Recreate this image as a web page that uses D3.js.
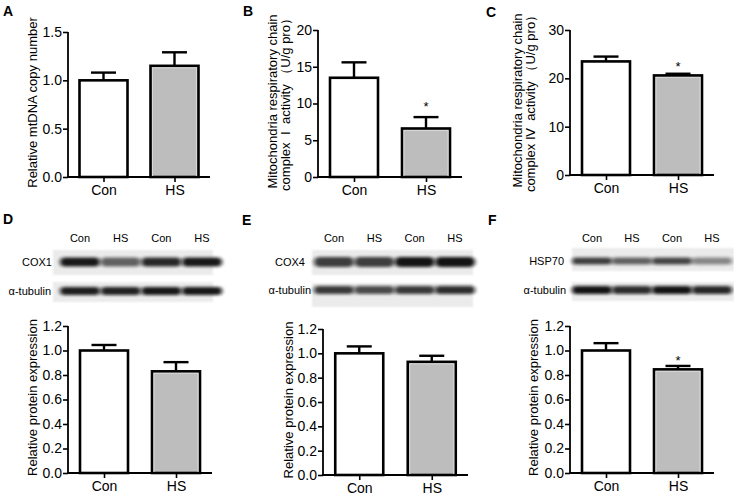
<!DOCTYPE html>
<html><head><meta charset="utf-8">
<script src="https://cdn.jsdelivr.net/npm/d3@7"></script>
<style>
body{margin:0;background:#fff}
svg{display:block;font-family:Arial,"Liberation Sans",Helvetica,sans-serif}
text{white-space:pre}
</style>
</head><body>
<svg id="chart" width="734" height="496"></svg>
<script>
// ---------------- DATA ----------------
const groups = ["Con", "HS"];
const mtdnaMean = [1.00, 1.15], mtdnaErr = [0.08, 0.14];
const complex1Mean = [13.5, 6.6], complex1Err = [2.1, 1.55];
const complex4Mean = [23.5, 20.6], complex4Err = [1.0, 0.35];
const cox1Mean = [1.00, 0.83], cox1Err = [0.045, 0.075];
const cox4Mean = [1.00, 0.93], cox4Err = [0.057, 0.05];
const hsp70Mean = [1.00, 0.846], hsp70Err = [0.06, 0.028];
const sigA = [false, false], sigB = [false, true], sigC = [false, true];
const sigD = [false, false], sigE = [false, false], sigF = [false, true];
const ticksA = [0, 0.5, 1.0, 1.5];
const ticksB = [0, 5, 10, 15, 20];
const ticksC = [0, 10, 20, 30];
const ticksP = [0, 0.2, 0.4, 0.6, 0.8, 1.0, 1.2];
const laneLabels = ["Con", "HS", "Con", "HS"];
const cox1Bands = [0.95, 0.62, 0.88, 0.95], tubulinD = [0.92, 0.9, 0.95, 0.95];
const cox4Bands = [0.78, 0.78, 0.97, 0.97], tubulinE = [0.8, 0.72, 0.8, 0.85];
const hsp70Bands = [0.78, 0.62, 0.75, 0.45], tubulinF = [0.97, 0.85, 0.97, 0.88];

// ---------------- DRAW ----------------
const svg = d3.select("#chart");
const defs = svg.append("defs");
defs.append("filter").attr("id", "blur").attr("x", "-30%").attr("y", "-80%").attr("width", "160%").attr("height", "260%")
  .append("feGaussianBlur").attr("stdDeviation", "2 1.5");
defs.append("filter").attr("id", "soft").append("feGaussianBlur").attr("stdDeviation", "1");

function panelLetter(t, x, y) {
  svg.append("text").attr("x", x).attr("y", y).attr("font-size", 14).attr("font-weight", "bold").text(t);
}

function barPanel(cfg) {
  const g = svg.append("g");
  const x = d3.scalePoint().domain(groups).range([cfg.axisX, cfg.xEnd]).padding(0.5);
  const y = d3.scaleLinear().domain([cfg.ticks[0], cfg.ticks[cfg.ticks.length - 1]]).range([cfg.yBottom, cfg.yTop]);
  const bw = 48, cap = 25;
  const data = groups.map((k, i) => ({ k, m: cfg.mean[i], e: cfg.err[i], s: cfg.sig[i], i }));

  g.selectAll(".eb").data(data).enter().append("line")
    .attr("x1", d => x(d.k)).attr("x2", d => x(d.k))
    .attr("y1", d => y(d.m)).attr("y2", d => y(d.m + d.e))
    .attr("stroke", "#000").attr("stroke-width", 2.4);
  g.selectAll(".cap").data(data).enter().append("line")
    .attr("x1", d => x(d.k) - cap / 2).attr("x2", d => x(d.k) + cap / 2)
    .attr("y1", d => y(d.m + d.e)).attr("y2", d => y(d.m + d.e))
    .attr("stroke", "#000").attr("stroke-width", 2.4);

  g.selectAll(".bar").data(data).enter().append("rect")
    .attr("x", d => x(d.k) - bw / 2).attr("width", bw)
    .attr("y", d => y(d.m)).attr("height", d => y(0) - y(d.m))
    .attr("fill", d => d.i === 0 ? "#fff" : "#bdbdbd")
    .attr("stroke", "#000").attr("stroke-width", 2.6);
  g.selectAll(".inner").data(data.filter(d => d.i === 1)).enter().append("rect")
    .attr("x", d => x(d.k) - bw / 2 + 2).attr("width", bw - 4)
    .attr("y", d => y(d.m) + 2).attr("height", d => y(0) - y(d.m) - 2)
    .attr("fill", "none").attr("stroke", "#d8d8d8").attr("stroke-width", 1);

  g.selectAll(".star").data(data.filter(d => d.s)).enter().append("text")
    .attr("x", d => x(d.k)).attr("y", d => y(d.m + d.e) - cfg.starGap)
    .attr("text-anchor", "middle").attr("font-size", 13).text("*");

  const ya = d3.axisLeft(y).tickValues(cfg.ticks).tickFormat(d3.format(cfg.fmt)).tickSize(5).tickPadding(1);
  const yg = g.append("g").attr("transform", `translate(${cfg.axisX},0)`).call(ya);
  yg.select(".domain").attr("stroke-width", 1.8).attr("d", `M0,${cfg.yTop}V${cfg.yBottom}`);
  yg.selectAll(".tick line").attr("stroke-width", 1.6);
  yg.selectAll(".tick text").attr("font-size", 14).attr("font-family", "Arial,'Liberation Sans',sans-serif").attr("fill", "#000");

  const xa = d3.axisBottom(x).tickSize(5).tickPadding(3);
  const xg = g.append("g").attr("transform", `translate(0,${cfg.yBottom})`).call(xa);
  xg.select(".domain").attr("stroke-width", 1.8).attr("d", `M${cfg.axisX - 1},0H${cfg.xEnd}`);
  xg.selectAll(".tick line").attr("stroke-width", 1.6);
  xg.selectAll(".tick text").attr("font-size", 14).attr("font-family", "Arial,'Liberation Sans',sans-serif").attr("fill", "#000");

  const cy = (cfg.yTop + cfg.yBottom) / 2 - 2;
  cfg.labels.forEach((t, i) => {
    g.append("text").attr("transform", `translate(${cfg.labelX[i]},${cy}) rotate(-90)`)
      .attr("text-anchor", "middle").attr("font-size", 13).text(t);
  });
}

function blot(cfg) {
  const g = svg.append("g");
  const lx = d3.scalePoint().domain(d3.range(laneLabels.length)).range(cfg.lanes);
  g.selectAll(".hdr").data(laneLabels).enter().append("text")
    .attr("x", (d, i) => lx(i)).attr("y", 242).attr("text-anchor", "middle").attr("font-size", 11).text(d => d);
  cfg.rows.forEach(r => {
    g.append("rect").attr("x", cfg.strip[0]).attr("width", cfg.strip[1] - cfg.strip[0])
      .attr("y", r.y0).attr("height", r.y1 - r.y0).attr("fill", "#ebebeb").attr("filter", "url(#soft)");
    g.append("text").attr("x", r.lx).attr("y", r.ly).attr("text-anchor", "end").attr("font-size", 11).text(r.name);
    g.selectAll(null).data(r.bands).enter().append("rect")
      .attr("x", (d, i) => lx(i) - 20).attr("width", 40)
      .attr("y", r.cy - r.h / 2).attr("height", r.h).attr("rx", r.h / 2)
      .attr("fill", "#111").attr("opacity", d => d).attr("filter", "url(#blur)");
  });
}

panelLetter("A", 3, 16); panelLetter("B", 243, 16); panelLetter("C", 486, 17);
panelLetter("D", 3, 224); panelLetter("E", 242, 225); panelLetter("F", 488, 225);

barPanel({ mean: mtdnaMean, err: mtdnaErr, sig: sigA, ticks: ticksA, fmt: ".1f", axisX: 68, xEnd: 210, yTop: 32, yBottom: 177,
  labels: ["Relative mtDNA copy number"], labelX: [37], starGap: 10 });
barPanel({ mean: complex1Mean, err: complex1Err, sig: sigB, ticks: ticksB, fmt: "d", axisX: 318, xEnd: 462, yTop: 30, yBottom: 177,
  labels: ["Mitochondria respiratory chain", "complex  Ⅰ  activity （U/g pro）"], labelX: [276.5, 290], starGap: 6 });
barPanel({ mean: complex4Mean, err: complex4Err, sig: sigC, ticks: ticksC, fmt: "d", axisX: 570, xEnd: 714, yTop: 30, yBottom: 175,
  labels: ["Mitochondria respiratory chain", "complex Ⅳ  activity （U/g pro）"], labelX: [522, 535], starGap: 3 });
barPanel({ mean: cox1Mean, err: cox1Err, sig: sigD, ticks: ticksP, fmt: ".1f", axisX: 68, xEnd: 212, yTop: 326, yBottom: 473,
  labels: ["Relative protein expression"], labelX: [37], starGap: 5 });
barPanel({ mean: cox4Mean, err: cox4Err, sig: sigE, ticks: ticksP, fmt: ".1f", axisX: 323, xEnd: 468, yTop: 329, yBottom: 475,
  labels: ["Relative protein expression"], labelX: [293], starGap: 5 });
barPanel({ mean: hsp70Mean, err: hsp70Err, sig: sigF, ticks: ticksP, fmt: ".1f", axisX: 570, xEnd: 714, yTop: 326, yBottom: 473,
  labels: ["Relative protein expression"], labelX: [538], starGap: 1 });

blot({ lanes: [80, 202], strip: [53, 213], rows: [
  { name: "COX1", bands: cox1Bands, y0: 250, y1: 275, cy: 262, h: 9, lx: 52, ly: 266 },
  { name: "α-tubulin", bands: tubulinD, y0: 282, y1: 302, cy: 291, h: 8, lx: 51, ly: 295 }] });
blot({ lanes: [334, 455], strip: [312, 473], rows: [
  { name: "COX4", bands: cox4Bands, y0: 250, y1: 275, cy: 262, h: 10, lx: 305, ly: 266 },
  { name: "α-tubulin", bands: tubulinE, y0: 283, y1: 307, cy: 290, h: 8, lx: 311, ly: 294 }] });
blot({ lanes: [592, 712], strip: [572, 734], rows: [
  { name: "HSP70", bands: hsp70Bands, y0: 248, y1: 271, cy: 261, h: 7, lx: 564, ly: 265 },
  { name: "α-tubulin", bands: tubulinF, y0: 282, y1: 301, cy: 290, h: 8, lx: 566, ly: 294 }] });
</script>
</body></html>
